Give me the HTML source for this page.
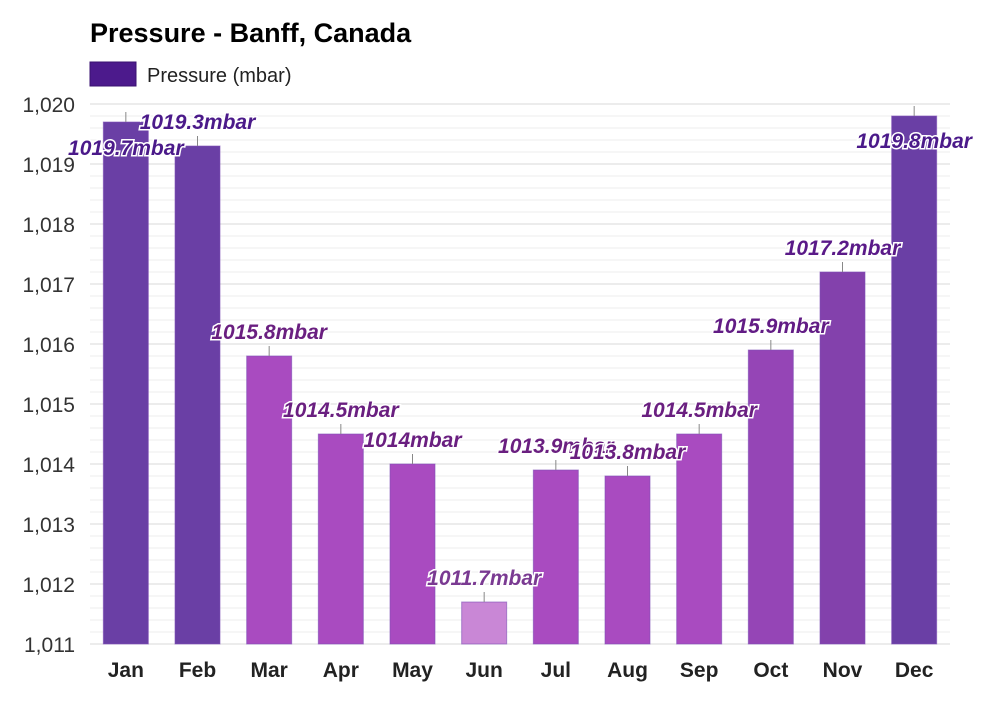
<!DOCTYPE html>
<html><head><meta charset="utf-8"><style>
body{margin:0;background:#fff;font-family:"Liberation Sans",Arial,sans-serif}
svg text{font-family:"Liberation Sans",Arial,sans-serif}
</style></head><body>
<svg width="1000" height="700">
<rect width="1000" height="700" fill="#fff"/>
<text x="90" y="42" font-size="27" font-weight="bold" fill="#000">Pressure - Banff, Canada</text>
<rect x="90" y="62" width="46" height="24" fill="#4c1a8c" stroke="#3a1170"/>
<text x="147" y="82" font-size="20" fill="#222">Pressure (mbar)</text>
<g id="grid"></g><g id="bars"></g><g id="labels"></g>
</svg>
<script>
const months=["Jan","Feb","Mar","Apr","May","Jun","Jul","Aug","Sep","Oct","Nov","Dec"];
const values=[1019.7,1019.3,1015.8,1014.5,1014,1011.7,1013.9,1013.8,1014.5,1015.9,1017.2,1019.8];
const valueLabels=["1019.7mbar","1019.3mbar","1015.8mbar","1014.5mbar","1014mbar","1011.7mbar","1013.9mbar","1013.8mbar","1014.5mbar","1015.9mbar","1017.2mbar","1019.8mbar"];
const yTicks=[1011,1012,1013,1014,1015,1016,1017,1018,1019,1020];
const yTickLabels=["1,011","1,012","1,013","1,014","1,015","1,016","1,017","1,018","1,019","1,020"];
const NS="http://www.w3.org/2000/svg";
const y0=644,ppu=60,x0=90,x1=950,step=(x1-x0)/12,bw=45;
const ys=v=>y0-(v-1011)*ppu;
const xs=i=>x0+step*(i+0.5);
function mk(t,a,p){const e=document.createElementNS(NS,t);for(const k in a)e.setAttribute(k,a[k]);p.appendChild(e);return e;}
const grid=document.getElementById('grid');
for(let v=1011;v<=1020.0001;v+=0.2){
  const major=Math.abs(v-Math.round(v))<1e-6;
  const l=mk('line',{x1:x0,x2:x1,y1:ys(v),y2:ys(v),stroke:major?'#d8d8d8':'#eeeeee','stroke-width':1},grid);
  
  
}
yTicks.forEach((v,i)=>{
  const t=mk('text',{x:75,y:ys(v)+8,'text-anchor':'end','font-size':21,fill:'#333'},grid);
  t.textContent=yTickLabels[i];
  
  
});
function colors(v){
  if(v>=1018.5)return['#6a3fa5','#4b1a8a'];
  if(v>=1017)return['#8341ac','#5a1a88'];
  if(v>=1015.85)return['#9545b6','#621c85'];
  if(v>=1013)return['#a94bc0','#6a1f80'];
  return['#c987d6','#7a3a92'];
}
const bars=document.getElementById('bars'),labs=document.getElementById('labels');
values.forEach((v,i)=>{
  const [fc,tc]=colors(v);
  const cx=xs(i),top=ys(v);
  const r=mk('rect',{x:cx-bw/2,y:top,width:bw,height:y0-top,fill:fc,stroke:'#7d4fb5','stroke-opacity':0.6},bars);
  
  
  const m=mk('text',{x:cx,y:677,'text-anchor':'middle','font-size':21,'font-weight':'bold',fill:'#222'},bars);
  m.textContent=months[i];
  
  
  let lx=cx,ly=top-17,line=true;
  if(i===0){ly=top+33;}
  if(i===11){ly=top+32;}
  if(line){
    const ll=mk('line',{x1:cx,x2:cx,y1:top-10,y2:top,stroke:'#888'},labs);
    
    
  }
  const t=mk('text',{x:lx,y:ly,'text-anchor':'middle','font-size':21,'font-weight':'bold','font-style':'italic',fill:tc,stroke:'#fff','stroke-width':3,'paint-order':'stroke'},labs);
  t.textContent=valueLabels[i];
  
  
});
</script>
</body></html>
